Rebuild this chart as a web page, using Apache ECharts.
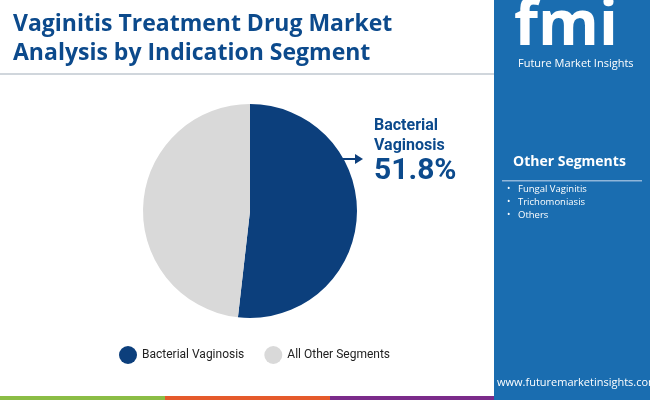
<!DOCTYPE html>
<html><head><meta charset="utf-8">
<script src="https://cdn.jsdelivr.net/npm/echarts@6/dist/echarts.min.js"></script>
<style>html,body{margin:0;padding:0;background:#fff}#c{width:650px;height:400px}</style>
</head><body><div id="c"></div>
<script>
const categories = ["Bacterial Vaginosis", "All Other Segments"];
const values = [51.8, 48.2];
const colors = ["#0c3f7c", "#d9d9d9"];
const otherSegments = ["Fungal Vaginitis", "Trichomoniasis", "Others"];

const chart = echarts.init(document.getElementById('c'));
const F = 'Roboto';
const g = [
  {type:'rect', shape:{x:494,y:0,width:156,height:400}, style:{fill:'#1a6db0'}, z:0},
  {type:'rect', shape:{x:0,y:73,width:494,height:2}, style:{fill:'#d0d6dc'}},
  {type:'rect', shape:{x:0,y:396,width:165,height:4}, style:{fill:'#8bbd45'}},
  {type:'rect', shape:{x:165,y:396,width:165,height:4}, style:{fill:'#e55a2b'}},
  {type:'rect', shape:{x:330,y:396,width:164,height:4}, style:{fill:'#7b2b8a'}},
  {type:'text', left:13, top:10, style:{text:'Vaginitis Treatment Drug Market\nAnalysis by Indication Segment', font:'bold 23px "Open Sans"', fill:'#0c4a8c', lineHeight:29}},
  {type:'text', left:514, top:-4, style:{text:'fmi', font:'bold 62px "Open Sans"', fill:'#fff'}},
  {type:'text', left:518, top:58, style:{text:'Future Market Insights', font:'11px "Open Sans"', fill:'#fff'}},
  {type:'text', left:513, top:155, style:{text:'Other Segments', font:'bold 14px "Open Sans"', fill:'#fff'}},
  {type:'rect', shape:{x:502,y:180,width:140,height:1.5}, style:{fill:'#8fb6da'}},
  {type:'text', left:497, top:377, style:{text:'www.futuremarketinsights.com', font:'11px "Open Sans"', fill:'#fff'}},
  {type:'text', left:374, top:116, style:{text:'Bacterial\nVaginosis', font:'bold 16px Roboto', fill:'#0c4a8c', lineHeight:20}},
  {type:'text', left:374, top:156, style:{text:values[0]+'%', font:'bold 30px Roboto', fill:'#0c4a8c'}},
  {type:'line', shape:{x1:340,y1:159,x2:356,y2:159}, style:{stroke:'#0c3f7c', lineWidth:2}},
  {type:'polygon', shape:{points:[[355,154],[363,159],[355,164]]}, style:{fill:'#0c3f7c'}}
];
otherSegments.forEach((s,i)=>{
  g.push({type:'text', left:507, top:184+i*13, style:{text:'•', font:'9px "Open Sans"', fill:'#fff'}});
  g.push({type:'text', left:518, top:184+i*13, style:{text:s, font:'9.5px "Open Sans"', fill:'#fff'}});
});
chart.setOption({
  animation:false,
  legend:{bottom:31, left:114, itemGap:20, icon:'circle', itemWidth:18, itemHeight:18,
    textStyle:{fontFamily:F, fontSize:12, color:'#222'}, data:categories},
  graphic:g,
  series:[{type:'pie', center:[250,211], radius:[0,107], startAngle:90, clockwise:true,
    label:{show:false}, labelLine:{show:false}, emphasis:{disabled:true},
    data:categories.map((c,i)=>({name:c, value:values[i], itemStyle:{color:colors[i]}}))}]
});
</script></body></html>
